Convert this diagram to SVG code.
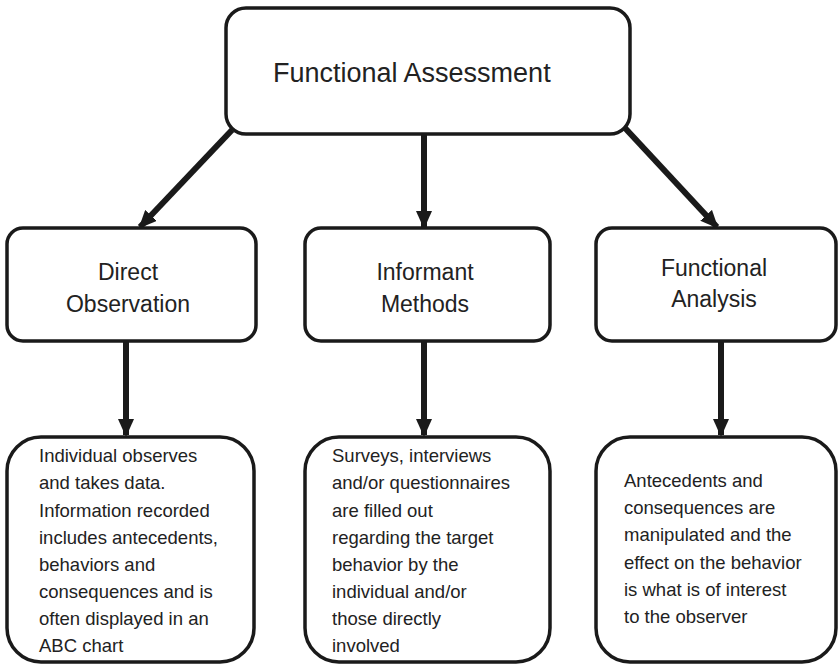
<svg xmlns="http://www.w3.org/2000/svg" width="839" height="664" viewBox="0 0 839 664">
  <defs>
    <marker id="head" markerUnits="userSpaceOnUse" markerWidth="18" markerHeight="16" viewBox="0 0 18 16" refX="16" refY="8" orient="auto">
      <path d="M0,0 L18,8 L0,16 Z" fill="#1a1a1a"/>
    </marker>
    <style>
      .box { fill: #ffffff; stroke: #1a1a1a; stroke-width: 3.5; }
      .title { font-family: "Liberation Sans", Arial, sans-serif; font-size: 27px; fill: #222; }
      .label { font-family: "Liberation Sans", Arial, sans-serif; font-size: 23px; fill: #222; text-anchor: middle; }
      .body { font-family: "Liberation Sans", Arial, sans-serif; font-size: 18.5px; fill: #222; }
      .conn { stroke: #1a1a1a; stroke-width: 6; fill: none; marker-end: url(#head); }
    </style>
  </defs>

  <!-- connectors -->
  <g id="connectors">
    <line class="conn" x1="232" y1="130" x2="140" y2="227"/>
    <line class="conn" x1="424" y1="134" x2="424" y2="227"/>
    <line class="conn" x1="625" y1="128" x2="717" y2="227"/>
    <line class="conn" x1="126" y1="342" x2="126" y2="435"/>
    <line class="conn" x1="424" y1="342" x2="424" y2="435"/>
    <line class="conn" x1="721" y1="342" x2="721" y2="435"/>
  </g>

  <!-- root -->
  <g id="functional-assessment">
    <rect class="box" x="226" y="8" width="404" height="126" rx="20"/>
    <text class="title" x="273" y="82">Functional Assessment</text>
  </g>

  <!-- methods -->
  <g id="direct-observation">
    <rect class="box" x="7" y="228" width="249" height="113" rx="16"/>
    <text class="label" x="128" y="280">Direct</text>
    <text class="label" x="128" y="312">Observation</text>
  </g>
  <g id="informant-methods">
    <rect class="box" x="305" y="228" width="245" height="113" rx="16"/>
    <text class="label" x="425" y="280">Informant</text>
    <text class="label" x="425" y="312">Methods</text>
  </g>
  <g id="functional-analysis">
    <rect class="box" x="596" y="228" width="240" height="113" rx="16"/>
    <text class="label" x="714" y="276">Functional</text>
    <text class="label" x="714" y="307">Analysis</text>
  </g>

  <!-- descriptions -->
  <g id="direct-observation-detail">
    <rect class="box" x="7" y="437" width="247" height="225" rx="34"/>
    <text class="body" x="39" y="462">Individual observes</text>
    <text class="body" x="39" y="489">and takes data.</text>
    <text class="body" x="39" y="516.5">Information recorded</text>
    <text class="body" x="39" y="543.5">includes antecedents,</text>
    <text class="body" x="39" y="571">behaviors and</text>
    <text class="body" x="39" y="598">consequences and is</text>
    <text class="body" x="39" y="625">often displayed in an</text>
    <text class="body" x="39" y="652">ABC chart</text>
  </g>
  <g id="informant-methods-detail">
    <rect class="box" x="305" y="437" width="245" height="225" rx="34"/>
    <text class="body" x="332" y="462">Surveys, interviews</text>
    <text class="body" x="332" y="489">and/or questionnaires</text>
    <text class="body" x="332" y="516.5">are filled out</text>
    <text class="body" x="332" y="543.5">regarding the target</text>
    <text class="body" x="332" y="571">behavior by the</text>
    <text class="body" x="332" y="598">individual and/or</text>
    <text class="body" x="332" y="625">those directly</text>
    <text class="body" x="332" y="652">involved</text>
  </g>
  <g id="functional-analysis-detail">
    <rect class="box" x="596" y="437" width="240" height="225" rx="34"/>
    <text class="body" x="624" y="487">Antecedents and</text>
    <text class="body" x="624" y="514">consequences are</text>
    <text class="body" x="624" y="541">manipulated and the</text>
    <text class="body" x="624" y="568.5">effect on the behavior</text>
    <text class="body" x="624" y="596">is what is of interest</text>
    <text class="body" x="624" y="623">to the observer</text>
  </g>
</svg>
